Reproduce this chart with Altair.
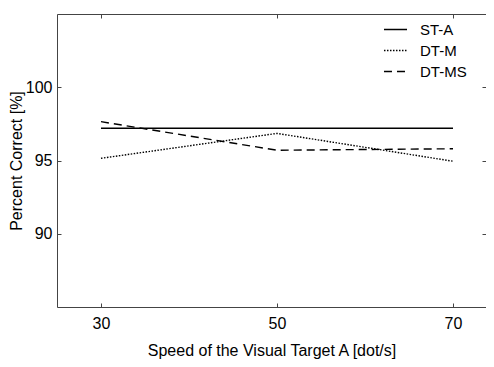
import altair as alt
import pandas as pd

speeds = [30, 50, 70]
series_names = ["ST-A", "DT-M", "DT-MS"]
st_a = [97.2, 97.2, 97.2]
dt_m = [95.15, 96.85, 94.95]
dt_ms = [97.65, 95.7, 95.8]
x_ticks = [30, 50, 70]
y_ticks = [90, 95, 100]

rows = []
for name, vals in zip(series_names, [st_a, dt_m, dt_ms]):
    for s, v in zip(speeds, vals):
        rows.append({"speed": s, "pct": v, "series": name})
df = pd.DataFrame(rows)

FONT = "Liberation Sans"
FS = 16
AX = "#444444"
xscale = alt.Scale(domain=[25, 73.75], nice=False, zero=False)
yscale = alt.Scale(domain=[85, 105], nice=False, zero=False)

dash = alt.StrokeDash(
    "series:N",
    scale=alt.Scale(domain=series_names, range=[[1, 0], [1.5, 1.5], [8, 5]]),
    legend=alt.Legend(
        title=None, orient="none", legendX=326, legendY=3,
        symbolType="stroke", symbolSize=530, symbolStrokeWidth=1.4,
        symbolStrokeColor="black", labelFont=FONT, labelFontSize=15,
        labelColor="black", rowPadding=0, padding=0, labelOffset=12,
    ),
)

base = alt.Chart(df)

main = base.mark_line(color="black", strokeWidth=1.4).encode(
    x=alt.X("speed:Q", scale=xscale,
            axis=alt.Axis(values=x_ticks, title="Speed of the Visual Target A [dot/s]",
                          grid=False, ticks=False, labelPadding=8,
                          titlePadding=11, domainColor=AX,
                          labelFont=FONT, titleFont=FONT, labelFontSize=FS,
                          titleFontSize=FS, titleFontWeight="normal",
                          labelColor="black", titleColor="black")),
    y=alt.Y("pct:Q", scale=yscale,
            axis=alt.Axis(values=y_ticks, title="Percent Correct [%]",
                          grid=False, ticks=False, labelPadding=5,
                          titlePadding=1, domainColor=AX,
                          labelFont=FONT, titleFont=FONT, labelFontSize=FS,
                          titleFontSize=FS, titleFontWeight="normal",
                          labelColor="black", titleColor="black")),
    strokeDash=dash,
    detail="series:N",
)

# inward ticks: bottom and right
ticks_br = base.mark_line(opacity=0).encode(
    x=alt.X("speed:Q", scale=xscale,
            axis=alt.Axis(orient="bottom", values=x_ticks, labels=False, title=None,
                          grid=False, domain=False, tickSize=4, offset=-4,
                          tickColor=AX, tickWidth=1)),
    y=alt.Y("pct:Q", scale=yscale,
            axis=alt.Axis(orient="right", values=y_ticks, labels=False, title=None,
                          grid=False, domain=False, tickSize=4, offset=-4,
                          tickColor=AX, tickWidth=1)),
    detail="series:N",
)

# top border line and inward left ticks
top_line = base.mark_line(opacity=0).encode(
    x=alt.X("speed:Q", scale=xscale,
            axis=alt.Axis(orient="top", values=x_ticks, labels=False, title=None,
                          grid=False, ticks=False, domainColor=AX)),
    y=alt.Y("pct:Q", scale=yscale,
            axis=alt.Axis(orient="left", values=y_ticks, labels=False, title=None,
                          grid=False, domain=False, tickSize=4, offset=-4,
                          tickColor=AX, tickWidth=1)),
    detail="series:N",
)

# inward top ticks
ticks_top = base.mark_line(opacity=0).encode(
    x=alt.X("speed:Q", scale=xscale,
            axis=alt.Axis(orient="top", values=x_ticks, labels=False, title=None,
                          grid=False, domain=False, tickSize=4, offset=-4,
                          tickColor=AX, tickWidth=1)),
    y=alt.Y("pct:Q", scale=yscale, axis=None),
    detail="series:N",
)

chart = alt.layer(main, ticks_br, top_line, ticks_top).resolve_axis(
    x="independent", y="independent"
).properties(
    width=429, height=293,
    autosize=alt.AutoSizeParams(type="none"),
    padding={"left": 49, "top": 6, "right": 0, "bottom": 52},
).configure_view(stroke=None).configure(background="white")

chart.save("out.html", embed_options={"renderer": "svg", "actions": False})
